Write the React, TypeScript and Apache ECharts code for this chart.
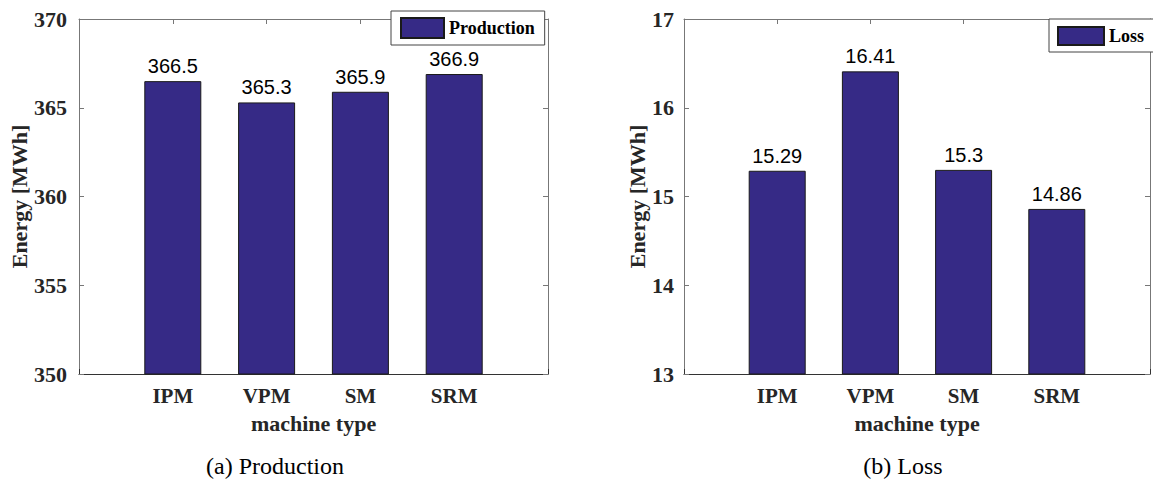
import React, { useEffect, useRef } from "react";
import * as echarts from "echarts";

const categories = ["IPM", "VPM", "SM", "SRM"];
const productionValues = [366.5, 365.3, 365.9, 366.9];
const lossValues = [15.29, 16.41, 15.3, 14.86];
const productionAxis = { min: 350, max: 370, interval: 5 };
const lossAxis = { min: 13, max: 17, interval: 1 };
const captions = ["(a) Production", "(b) Loss"];

const SERIF = "Liberation Serif";
const SANS = "Liberation Sans";
const BAR = "#362a86";

const axisData = ["", ...categories, ""];

function makeAxes(gridIndex: number, yRange: { min: number; max: number; interval: number }, yLabelMargin: number, yNameGap: number) {
  const xBottom = {
    type: "category",
    gridIndex,
    position: "bottom",
    data: axisData,
    boundaryGap: false,
    axisLine: { show: true, lineStyle: { color: "#333", width: 1.2 } },
    axisTick: { show: true, inside: true, length: 5, lineStyle: { color: "#333" } },
    axisLabel: {
      show: true,
      interval: 0,
      margin: 11,
      color: "#262626",
      fontFamily: SERIF,
      fontWeight: "bold",
      fontSize: 21,
    },
    name: "machine type",
    nameLocation: "middle",
    nameGap: 38,
    nameTextStyle: { color: "#262626", fontFamily: SERIF, fontWeight: "bold", fontSize: 22 },
    splitLine: { show: false },
  };
  const xTop = {
    type: "category",
    gridIndex,
    position: "top",
    data: axisData,
    boundaryGap: false,
    axisLine: { show: true, lineStyle: { color: "#777", width: 1 } },
    axisTick: { show: true, inside: true, length: 5, lineStyle: { color: "#777" } },
    axisLabel: { show: false },
    splitLine: { show: false },
  };
  const yLeft = {
    type: "value",
    gridIndex,
    position: "left",
    min: yRange.min,
    max: yRange.max,
    interval: yRange.interval,
    axisLine: { show: true, lineStyle: { color: "#777", width: 1 } },
    axisTick: { show: true, inside: true, length: 5, lineStyle: { color: "#777" } },
    axisLabel: {
      margin: yLabelMargin,
      color: "#262626",
      fontFamily: SERIF,
      fontWeight: "bold",
      fontSize: 22,
    },
    name: "Energy [MWh]",
    nameLocation: "middle",
    nameGap: yNameGap,
    nameTextStyle: { color: "#262626", fontFamily: SERIF, fontWeight: "bold", fontSize: 22 },
    splitLine: { show: false },
  };
  const yRight = {
    type: "value",
    gridIndex,
    position: "right",
    min: yRange.min,
    max: yRange.max,
    interval: yRange.interval,
    axisLine: { show: true, lineStyle: { color: "#777", width: 1 } },
    axisTick: { show: true, inside: true, length: 5, lineStyle: { color: "#777" } },
    axisLabel: { show: false },
    splitLine: { show: false },
  };
  return { xBottom, xTop, yLeft, yRight };
}

export default function App() {
  const ref = useRef<HTMLDivElement>(null);

  useEffect(() => {
    document.body.style.margin = "0";
    if (!ref.current) return;
    const chart = echarts.init(ref.current, null, { renderer: "svg" });

    const a = makeAxes(0, productionAxis, 12, 49);
    const b = makeAxes(1, lossAxis, 10, 35);

    const barSeries = (name: string, values: number[], xi: number, yi: number) => ({
      name,
      type: "bar",
      xAxisIndex: xi,
      yAxisIndex: yi,
      barWidth: 57,
      data: ["-", ...values, "-"],
      itemStyle: { color: BAR, borderColor: "#1a1a1a", borderWidth: 1 },
      label: {
        show: true,
        position: "top",
        distance: 5,
        color: "#000",
        fontFamily: SANS,
        fontSize: 20,
        formatter: (p: any) => String(p.value),
      },
    });

    const legendBase = {
      orient: "horizontal",
      icon: "rect",
      borderColor: "#444",
      borderWidth: 1,
      backgroundColor: "#fff",
      itemGap: 4,
      textStyle: { color: "#000", fontFamily: SERIF, fontWeight: "bold", fontSize: 18 },
    };

    chart.setOption({
      animation: false,
      backgroundColor: "#fff",
      grid: [
        { left: 79, top: 19, width: 469, height: 355, containLabel: false },
        { left: 684, top: 19, width: 469, height: 355, containLabel: false },
      ],
      xAxis: [a.xBottom, a.xTop, b.xBottom, b.xTop],
      yAxis: [a.yLeft, a.yRight, b.yLeft, b.yRight],
      legend: [
        {
          ...legendBase,
          data: ["Production"],
          left: 391,
          top: 11,
          padding: [6, 10, 6, 9],
          itemWidth: 43,
          itemHeight: 20,
        },
        {
          ...legendBase,
          data: ["Loss"],
          left: 1049,
          top: 19,
          padding: [7, 14, 6, 8],
          itemWidth: 46,
          itemHeight: 18,
        },
      ],
      series: [
        barSeries("Production", productionValues, 0, 0),
        barSeries("Loss", lossValues, 2, 2),
      ],
      graphic: [
        {
          type: "text",
          x: 275,
          y: 466,
          style: {
            text: captions[0],
            font: "24px 'Liberation Serif'",
            fill: "#000",
            textAlign: "center",
            textVerticalAlign: "middle",
          },
        },
        {
          type: "text",
          x: 903,
          y: 466,
          style: {
            text: captions[1],
            font: "24px 'Liberation Serif'",
            fill: "#000",
            textAlign: "center",
            textVerticalAlign: "middle",
          },
        },
      ],
    });

    return () => {
      chart.dispose();
    };
  }, []);

  return <div ref={ref} style={{ width: 1153, height: 487 }} />;
}
